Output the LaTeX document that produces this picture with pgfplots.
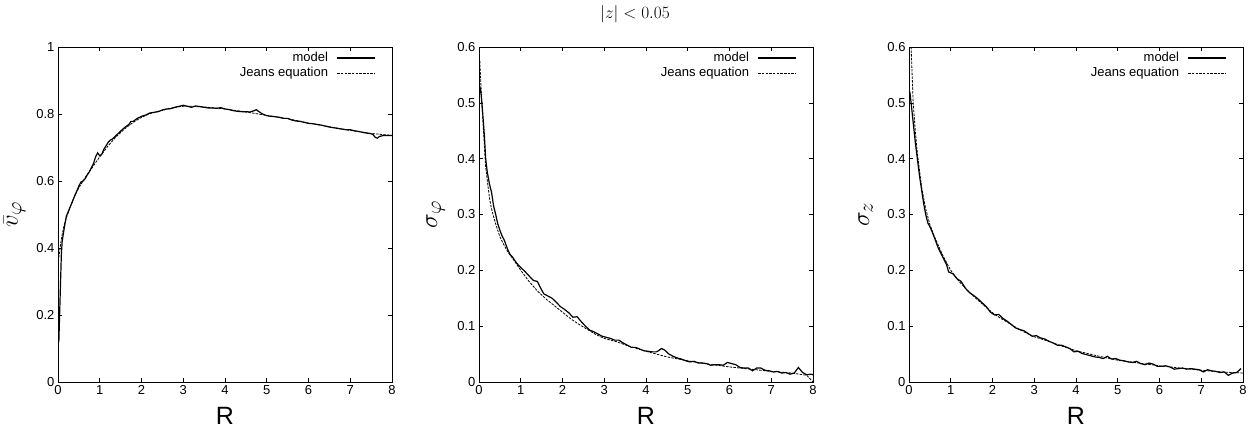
\documentclass[border=0pt]{standalone}
\usepackage{fontspec}
\setmainfont{Liberation Sans}
\usepackage{pgfplots}
\pgfplotsset{compat=1.18}
\pgfplotsset{
  panel/.style={
    scale only axis, width=334pt, height=335pt,
    anchor=south west,
    xmin=0, xmax=8, xtick={0,1,...,8},
    ymin=0,
    tick align=inside, tick pos=both,
    major tick length=4pt,
    /pgf/number format/assume math mode=true,
    tick label style={font=\fontsize{13}{13}\selectfont},
    axis line style={line width=0.6pt},
    every tick/.style={line width=0.6pt, black},
    xlabel={R},
    xlabel style={font=\fontsize{25}{25}\selectfont, at={(axis description cs:0.5,-0.102)}, anchor=center},
    ylabel style={font=\fontsize{32}{32}\selectfont, at={(axis description cs:-0.13,0.5)}, anchor=center, rotate=0},
    legend style={draw=none, fill=none, at={(0.952,0.99)}, anchor=north east,
      font=\fontsize{13}{13}\selectfont, inner sep=0pt, row sep=0pt},
    legend cell align=right,
    legend plot pos=right,
    legend image code/.code={\path[draw=none,fill=none] (0pt,0pt) circle (0.1pt); \draw[##1] (7pt,0pt) -- (45pt,0pt);},
  },
  model/.style={black, line width=1.2pt},
  jeans/.style={black, line width=0.8pt, dash pattern=on 2.5pt off 1.2pt},
}
\begin{document}
\begin{tikzpicture}
\useasboundingbox (0,0) rectangle (1252pt,429pt);
\node at (635pt,415pt) {\fontsize{19}{19}\selectfont $|z|<0.05$};

\begin{axis}[panel, at={(58pt,47pt)}, ymax=1, ytick={0,0.2,...,1}, ylabel={$\bar{v}_\varphi$}]
\addplot[model] coordinates {
(0.02,0.12) (0.05,0.25) (0.08,0.38) (0.1,0.42) (0.15,0.46) (0.2,0.495) (0.25,0.51) (0.3,0.525) (0.35,0.54) (0.4,0.556) (0.45,0.57) (0.5,0.585) (0.55,0.597) (0.6,0.6) (0.65,0.607) (0.7,0.618) (0.75,0.627) (0.8,0.64) (0.85,0.652) (0.9,0.672) (0.95,0.684) (1.0,0.675) (1.05,0.68) (1.1,0.695) (1.2,0.715) (1.25,0.722) (1.3,0.725) (1.4,0.737) (1.5,0.749) (1.6,0.76) (1.7,0.769) (1.75,0.778) (1.8,0.778) (1.9,0.787) (2.0,0.793) (2.1,0.797) (2.2,0.803) (2.3,0.805) (2.4,0.807) (2.5,0.812) (2.6,0.815) (2.7,0.816) (2.8,0.82) (2.9,0.823) (3.0,0.826) (3.1,0.823) (3.2,0.82) (3.3,0.824) (3.4,0.822) (3.5,0.82) (3.6,0.818) (3.7,0.818) (3.8,0.817) (3.9,0.819) (4.0,0.815) (4.1,0.813) (4.2,0.81) (4.3,0.808) (4.4,0.807) (4.5,0.807) (4.6,0.806) (4.7,0.81) (4.75,0.813) (4.8,0.808) (4.9,0.8) (5.0,0.795) (5.1,0.793) (5.2,0.792) (5.3,0.79) (5.4,0.787) (5.5,0.787) (5.6,0.782) (5.7,0.779) (5.8,0.778) (5.9,0.775) (6.0,0.772) (6.1,0.771) (6.2,0.769) (6.3,0.767) (6.4,0.764) (6.5,0.761) (6.6,0.759) (6.7,0.757) (6.8,0.755) (6.9,0.753) (7.0,0.753) (7.1,0.75) (7.2,0.748) (7.3,0.745) (7.4,0.743) (7.5,0.741) (7.55,0.738) (7.6,0.73) (7.65,0.728) (7.7,0.733) (7.8,0.736) (7.9,0.736) (8.0,0.736)
};
\addlegendentry{model}
\addplot[jeans] coordinates {
(0.0,0.36) (0.03,0.38) (0.06,0.41) (0.1,0.44) (0.15,0.47) (0.2,0.49) (0.3,0.525) (0.4,0.555) (0.5,0.58) (0.6,0.6) (0.7,0.62) (0.8,0.636) (0.9,0.655) (1.0,0.672) (1.2,0.705) (1.4,0.733) (1.6,0.756) (1.8,0.775) (2.0,0.79) (2.2,0.801) (2.4,0.808) (2.6,0.814) (2.8,0.82) (3.0,0.823) (3.2,0.823) (3.5,0.821) (4.0,0.815) (4.5,0.806) (5.0,0.796) (5.5,0.786) (6.0,0.773) (6.5,0.762) (7.0,0.751) (7.5,0.742) (8.0,0.736)
};
\addlegendentry{Jeans equation}
\end{axis}

\begin{axis}[panel, at={(479pt,47pt)}, ymax=0.6, ytick={0,0.1,...,0.6}, ylabel={$\sigma_\varphi$}]
\addplot[model] coordinates {
(0.02,0.53) (0.05,0.515) (0.08,0.49) (0.1,0.47) (0.13,0.44) (0.16,0.4) (0.2,0.375) (0.25,0.355) (0.3,0.34) (0.35,0.315) (0.4,0.3) (0.45,0.283) (0.5,0.272) (0.55,0.262) (0.6,0.255) (0.65,0.245) (0.7,0.235) (0.75,0.228) (0.8,0.224) (0.9,0.213) (1.0,0.205) (1.1,0.198) (1.2,0.19) (1.3,0.182) (1.4,0.18) (1.45,0.172) (1.55,0.158) (1.65,0.154) (1.75,0.15) (1.85,0.143) (1.95,0.135) (2.05,0.13) (2.15,0.124) (2.25,0.116) (2.35,0.117) (2.45,0.108) (2.55,0.1) (2.65,0.093) (2.75,0.09) (2.85,0.086) (2.95,0.082) (3.05,0.08) (3.15,0.078) (3.25,0.075) (3.35,0.075) (3.45,0.07) (3.55,0.066) (3.65,0.062) (3.75,0.062) (3.85,0.059) (3.95,0.056) (4.05,0.055) (4.15,0.054) (4.25,0.054) (4.3,0.056) (4.37,0.06) (4.45,0.057) (4.55,0.05) (4.65,0.046) (4.75,0.043) (4.85,0.041) (4.95,0.038) (5.05,0.036) (5.15,0.037) (5.25,0.034) (5.35,0.034) (5.45,0.033) (5.55,0.03) (5.65,0.031) (5.75,0.031) (5.85,0.03) (5.95,0.035) (6.05,0.033) (6.15,0.031) (6.25,0.026) (6.35,0.025) (6.45,0.025) (6.55,0.02) (6.65,0.025) (6.75,0.025) (6.85,0.021) (6.95,0.02) (7.05,0.018) (7.15,0.019) (7.25,0.016) (7.35,0.017) (7.45,0.014) (7.55,0.016) (7.65,0.026) (7.75,0.017) (7.85,0.013) (7.95,0.014) (8.0,0.013)
};
\addlegendentry{model}
\addplot[jeans] coordinates {
(0.02,0.575) (0.04,0.54) (0.07,0.5) (0.1,0.46) (0.13,0.42) (0.16,0.385) (0.2,0.36) (0.25,0.33) (0.3,0.31) (0.35,0.296) (0.4,0.283) (0.5,0.26) (0.6,0.245) (0.7,0.232) (0.8,0.222) (1.0,0.2) (1.2,0.18) (1.4,0.163) (1.6,0.149) (1.8,0.137) (2.0,0.125) (2.2,0.113) (2.4,0.103) (2.6,0.094) (2.8,0.085) (3.0,0.078) (3.3,0.072) (3.6,0.064) (4.0,0.055) (4.5,0.045) (5.0,0.038) (5.5,0.032) (6.0,0.027) (6.5,0.023) (7.0,0.019) (7.5,0.016) (7.85,0.012) (8.0,0.0)
};
\addlegendentry{Jeans equation}
\end{axis}

\begin{axis}[panel, at={(909pt,47pt)}, ymax=0.6, ytick={0,0.1,...,0.6}, ylabel={$\sigma_z$}]
\addplot[model] coordinates {
(0.02,0.52) (0.05,0.5) (0.1,0.465) (0.15,0.43) (0.2,0.4) (0.25,0.37) (0.3,0.345) (0.35,0.32) (0.4,0.3) (0.45,0.285) (0.5,0.278) (0.55,0.27) (0.6,0.26) (0.7,0.24) (0.8,0.225) (0.9,0.21) (0.95,0.197) (1.05,0.194) (1.15,0.185) (1.25,0.18) (1.35,0.168) (1.45,0.16) (1.55,0.155) (1.65,0.149) (1.75,0.142) (1.85,0.135) (1.95,0.125) (2.05,0.12) (2.15,0.121) (2.25,0.114) (2.35,0.109) (2.45,0.103) (2.55,0.097) (2.65,0.094) (2.75,0.092) (2.85,0.087) (2.95,0.082) (3.05,0.083) (3.15,0.079) (3.25,0.077) (3.35,0.073) (3.45,0.07) (3.55,0.066) (3.65,0.066) (3.75,0.063) (3.85,0.06) (3.95,0.054) (4.05,0.055) (4.15,0.051) (4.25,0.049) (4.35,0.047) (4.45,0.045) (4.55,0.044) (4.65,0.042) (4.75,0.046) (4.85,0.041) (4.95,0.042) (5.05,0.039) (5.15,0.038) (5.25,0.036) (5.35,0.035) (5.45,0.037) (5.55,0.033) (5.65,0.031) (5.75,0.034) (5.85,0.032) (5.95,0.028) (6.05,0.028) (6.15,0.029) (6.25,0.027) (6.35,0.023) (6.45,0.024) (6.55,0.025) (6.65,0.023) (6.75,0.024) (6.85,0.023) (6.95,0.022) (7.05,0.018) (7.15,0.022) (7.25,0.02) (7.35,0.019) (7.45,0.017) (7.55,0.018) (7.65,0.012) (7.75,0.016) (7.85,0.017) (7.95,0.024)
};
\addlegendentry{model}
\addplot[jeans] coordinates {
(0.04,0.66) (0.05,0.6) (0.07,0.56) (0.1,0.5) (0.15,0.45) (0.2,0.41) (0.3,0.35) (0.4,0.31) (0.5,0.282) (0.6,0.262) (0.8,0.228) (1.0,0.2) (1.2,0.18) (1.4,0.164) (1.6,0.15) (1.8,0.137) (2.0,0.124) (2.2,0.114) (2.4,0.105) (2.6,0.096) (2.8,0.088) (3.0,0.081) (3.3,0.074) (3.6,0.066) (4.0,0.056) (4.5,0.047) (5.0,0.039) (5.5,0.034) (6.0,0.029) (6.5,0.025) (7.0,0.021) (7.5,0.018) (8.0,0.016)
};
\addlegendentry{Jeans equation}
\end{axis}
\end{tikzpicture}
\end{document}
